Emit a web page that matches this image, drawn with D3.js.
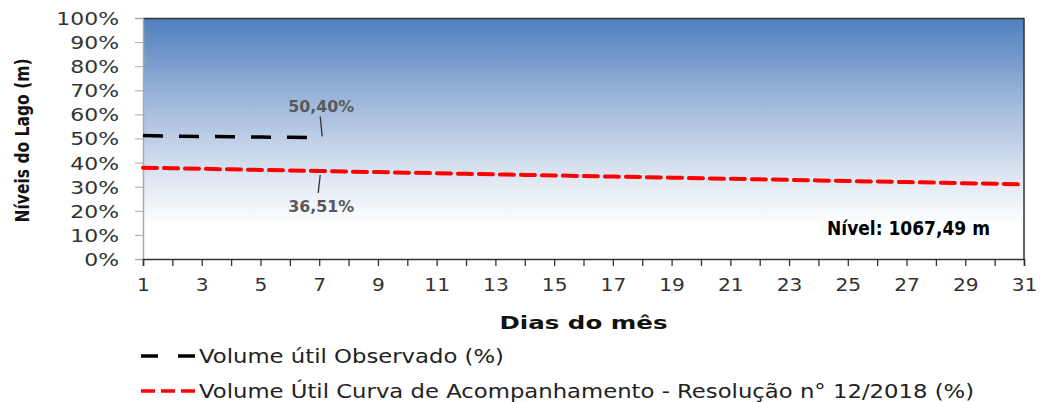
<!DOCTYPE html>
<html lang="pt">
<head>
<meta charset="utf-8">
<title>Níveis do Lago</title>
<script src="https://cdn.jsdelivr.net/npm/d3@7"></script>
<style>
  body { margin: 0; background: #fff; }
  text { font-family: "DejaVu Sans", Verdana, sans-serif; }
</style>
</head>
<body>
<div id="chart"></div>
<script>
// data
var days = d3.range(1, 32);
var obsDays = [1, 2, 3, 4, 5, 6, 7];
var observado = [51.2, 51.0, 50.85, 50.7, 50.6, 50.5, 50.4];
var curva = [37.89, 37.66, 37.43, 37.20, 36.97, 36.74, 36.51, 36.28, 36.05, 35.82,
             35.59, 35.36, 35.13, 34.90, 34.67, 34.44, 34.21, 33.98, 33.75, 33.52,
             33.29, 33.06, 32.83, 32.60, 32.37, 32.14, 31.91, 31.68, 31.45, 31.22, 30.99];
var yTicks = [0, 10, 20, 30, 40, 50, 60, 70, 80, 90, 100];
var xTickLabels = d3.range(1, 32, 2);
var labelObs = "50,40%";
var labelCurva = "36,51%";
var nivel = "Nível: 1067,49 m";
var legendNames = ["Volume útil Observado (%)",
                   "Volume Útil Curva de Acompanhamento - Resolução n° 12/2018 (%)"];

var w = 1040, h = 402;
var margin = {left: 143, right: 16, top: 18, bottom: 143};
var width = w - margin.left - margin.right;
var height = h - margin.top - margin.bottom;

var svg = d3.select("#chart").append("svg")
    .attr("width", w).attr("height", h);

// stretch text horizontally like the original picture
function stretch(sel, k) {
  sel.each(function() {
    var len = this.getComputedTextLength();
    d3.select(this).attr("textLength", len * k).attr("lengthAdjust", "spacingAndGlyphs");
  });
}

var defs = svg.append("defs");
var grad = defs.append("linearGradient").attr("id", "bg")
    .attr("x1", 0).attr("y1", 0).attr("x2", 0).attr("y2", 1);
grad.append("stop").attr("offset", "0%").attr("stop-color", "#4f7fbe");
grad.append("stop").attr("offset", "35%").attr("stop-color", "#9fb8db");
grad.append("stop").attr("offset", "65%").attr("stop-color", "#dce5f1");
grad.append("stop").attr("offset", "86%").attr("stop-color", "#ffffff");
grad.append("stop").attr("offset", "100%").attr("stop-color", "#ffffff");

var g = svg.append("g")
    .attr("transform", "translate(" + margin.left + "," + margin.top + ")");

var x = d3.scaleLinear().domain([1, 31]).range([0, width]);
var y = d3.scaleLinear().domain([0, 100]).range([height, 0]);

g.append("rect")
    .attr("width", width).attr("height", height)
    .attr("fill", "url(#bg)");

// frame top / right
g.append("path")
    .attr("d", "M0,0.5H" + width + "V" + height)
    .attr("fill", "none").attr("stroke", "#333").attr("stroke-width", 1.5);

// y axis
var yAxis = g.append("g")
    .call(d3.axisLeft(y).tickValues(yTicks).tickSize(8).tickFormat(function(d) { return d + "%"; }));
yAxis.select(".domain").attr("stroke", "#aaa").attr("stroke-width", 1.5);
yAxis.selectAll(".tick line").attr("stroke", "#aaa");
yAxis.selectAll(".tick text")
    .attr("x", -24).attr("dy", "0.36em")
    .attr("font-size", 18).attr("fill", "#333")
    .call(stretch, 1.22);

// x axis
var xAxis = g.append("g")
    .attr("transform", "translate(0," + height + ")")
    .call(d3.axisBottom(x).tickValues(days).tickSize(7).tickFormat(function(d) {
      return xTickLabels.indexOf(d) >= 0 ? d : "";
    }));
xAxis.select(".domain").attr("stroke", "#333").attr("stroke-width", 1.5);
xAxis.selectAll(".tick line").attr("stroke", "#333").attr("stroke-width", 1.3);
xAxis.selectAll(".tick text")
    .attr("y", 19)
    .attr("font-size", 18).attr("fill", "#333")
    .call(stretch, 1.12);

// axis titles
svg.append("text")
    .attr("transform", "translate(29," + (margin.top + height / 2 + 2) + ") rotate(-90)")
    .attr("text-anchor", "middle")
    .attr("font-family", "'Open Sans', sans-serif")
    .attr("font-weight", "bold").attr("font-size", 19).attr("fill", "#111")
    .text("Níveis do Lago (m)")
    .attr("textLength", 164).attr("lengthAdjust", "spacingAndGlyphs");

svg.append("text")
    .attr("x", margin.left + width / 2).attr("y", 329)
    .attr("text-anchor", "middle")
    .attr("font-family", "'Open Sans', sans-serif")
    .attr("font-weight", "bold").attr("font-size", 18).attr("fill", "#111")
    .text("Dias do mês")
    .attr("textLength", 168).attr("lengthAdjust", "spacingAndGlyphs");

// lines
var line = d3.line()
    .x(function(d) { return x(d[0]); })
    .y(function(d) { return y(d[1]); });

g.append("path")
    .datum(curva.map(function(v, i) { return [days[i], v]; }))
    .attr("d", line)
    .attr("fill", "none").attr("stroke", "#ff0000")
    .attr("stroke-width", 4).attr("stroke-dasharray", "14,7")
    .attr("stroke-linecap", "round");

g.append("path")
    .datum(observado.map(function(v, i) { return [obsDays[i], v]; }))
    .attr("d", line)
    .attr("fill", "none").attr("stroke", "#000")
    .attr("stroke-width", 3.5).attr("stroke-dasharray", "20,16");

// data labels with leader lines
var lastObs = observado[observado.length - 1];
var curva7 = curva[6];
var xl = x(obsDays[obsDays.length - 1]);

g.append("line")
    .attr("x1", xl + 3).attr("y1", y(lastObs) - 1)
    .attr("x2", xl + 1).attr("y2", y(lastObs) - 21)
    .attr("stroke", "#333").attr("stroke-width", 1.3);
g.append("text")
    .attr("x", xl + 2).attr("y", y(lastObs) - 26)
    .attr("text-anchor", "middle")
    .attr("font-size", 15).attr("font-weight", "bold").attr("fill", "#595959")
    .text(labelObs)
    .attr("textLength", 66).attr("lengthAdjust", "spacingAndGlyphs");

g.append("line")
    .attr("x1", xl + 1).attr("y1", y(curva7) + 4)
    .attr("x2", xl - 1).attr("y2", y(curva7) + 22)
    .attr("stroke", "#333").attr("stroke-width", 1.3);
g.append("text")
    .attr("x", xl + 2).attr("y", y(curva7) + 41)
    .attr("text-anchor", "middle")
    .attr("font-size", 15).attr("font-weight", "bold").attr("fill", "#595959")
    .text(labelCurva)
    .attr("textLength", 66).attr("lengthAdjust", "spacingAndGlyphs");

// level label
svg.append("text")
    .attr("x", 990).attr("y", 235)
    .attr("text-anchor", "end")
    .attr("font-family", "'Open Sans', sans-serif")
    .attr("font-weight", "bold").attr("font-size", 19).attr("fill", "#000")
    .text(nivel)
    .attr("textLength", 163).attr("lengthAdjust", "spacingAndGlyphs");

// legend
var legend = svg.append("g");
var legColors = ["#000", "#ff0000"];
var legDash = ["17,20", "14,6"];
var legWidths = [305, 775];
legendNames.forEach(function(name, i) {
  var ly = 356 + i * 35;
  legend.append("line")
      .attr("x1", 141).attr("x2", 198).attr("y1", ly).attr("y2", ly)
      .attr("stroke", legColors[i]).attr("stroke-width", 3.5)
      .attr("stroke-dasharray", legDash[i]);
  legend.append("text")
      .attr("x", 199).attr("y", ly + 7)
      .attr("font-family", "'Liberation Sans', Arial, sans-serif")
      .attr("font-size", 20).attr("fill", "#222")
      .text(name)
      .attr("textLength", legWidths[i]).attr("lengthAdjust", "spacingAndGlyphs");
});
</script>
</body>
</html>
